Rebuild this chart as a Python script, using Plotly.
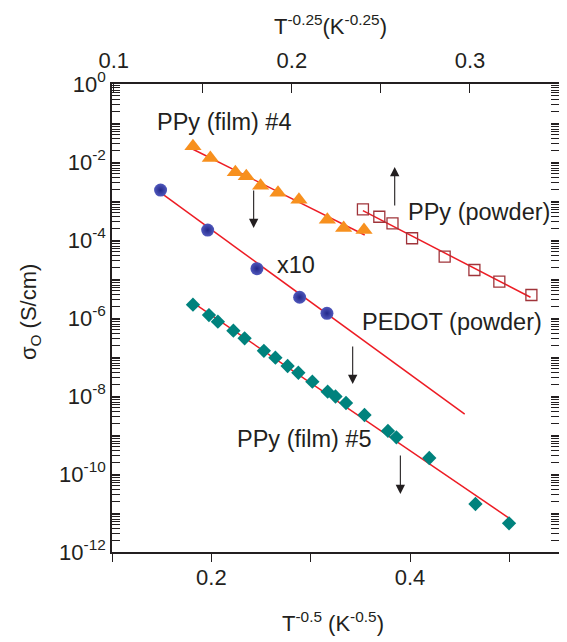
import plotly.graph_objects as go
import numpy as np

# ---------------- data ----------------
# PPy (film) #4 : sigma vs T^-0.5
film4_x = [0.1815, 0.1990, 0.2242, 0.2352, 0.2496, 0.2671, 0.2882, 0.3168, 0.3332, 0.3537]
film4_y = [2.53e-2, 1.27e-2, 5.44e-3, 4.30e-3, 2.47e-3, 1.63e-3, 1.08e-3, 3.32e-4, 2.03e-4, 1.80e-4]
film4_fit_x = [0.1815, 0.3544]
film4_fit_y = [2.12e-2, 1.34e-4]

# PPy (powder) : sigma vs T^-0.25 (top axis)
powder_x = [0.2399, 0.2491, 0.2565, 0.2675, 0.2858, 0.3025, 0.3165, 0.3345]
powder_y = [6.12e-4, 3.95e-4, 2.68e-4, 1.11e-4, 3.73e-5, 1.70e-5, 8.53e-6, 3.89e-6]
powder_fit_x = [0.2399, 0.3340]
powder_fit_y = [5.64e-4, 3.40e-6]

# PEDOT (powder) x10 : sigma vs T^-0.5
pedot_x = [0.1489, 0.1963, 0.2459, 0.2889, 0.3164]
pedot_y = [1.91e-3, 1.80e-4, 1.84e-5, 3.40e-6, 1.32e-6]
pedot_fit_x = [0.1489, 0.4551]
pedot_fit_y = [1.63e-3, 3.45e-9]

# PPy (film) #5 : sigma vs T^-0.5
film5_x = [0.1815, 0.1976, 0.2066, 0.2222, 0.2335, 0.2529, 0.2645, 0.2768, 0.2876, 0.3017,
           0.3171, 0.3250, 0.3356, 0.3542, 0.3778, 0.3863, 0.4194, 0.4659, 0.4997]
film5_y = [2.19e-6, 1.19e-6, 8.04e-7, 4.72e-7, 3.01e-7, 1.44e-7, 9.59e-8, 5.87e-8, 3.95e-8, 2.33e-8,
           1.29e-8, 9.70e-9, 6.62e-9, 3.26e-9, 1.27e-9, 8.73e-10, 2.57e-10, 1.70e-11, 5.45e-12]
film5_fit_x = [0.1815, 0.5000]
film5_fit_y = [2.47e-6, 7.31e-12]

# labels
labels_text = ["PPy (film) #4", "PPy (powder)", "PEDOT (powder)", "x10", "PPy (film) #5"]
labels_x = [0.1432, 0.3955, 0.3497, 0.2641, 0.2238]
labels_y = [1.06e-1, 5.2e-4, 7.9e-7, 2.3e-5, 7.9e-10]

# arrows (x, tail y, head y) in bottom-axis units
arrows_x = [0.2426, 0.3846, 0.3423, 0.3903]
arrows_from = [2.03e-3, 7.0e-4, 2.03e-7, 3.26e-10]
arrows_to = [2.03e-4, 7.45e-3, 2.03e-8, 3.07e-11]

# axis ticks
bottom_ticks = [0.1, 0.2, 0.3, 0.4, 0.5]
bottom_ticktext = ["", "0.2", "", "0.4", ""]
top_ticks = [0.1, 0.15, 0.2, 0.25, 0.3, 0.35]
top_ticktext = ["0.1", "", "0.2", "", "0.3", ""]
y_exps = list(range(0, -13, -1))

# ---------------- figure ----------------
FONT = "Liberation Sans, Arial, sans-serif"
INK = "#231F20"
RED = "#ED1C24"

fig = go.Figure()

def fitline(x, y, xaxis="x"):
    fig.add_trace(go.Scatter(x=x, y=y, mode="lines", xaxis=xaxis,
                             line=dict(color=RED, width=1.5), showlegend=False, hoverinfo="skip"))

fitline(film4_fit_x, film4_fit_y)
fitline(pedot_fit_x, pedot_fit_y)
fitline(film5_fit_x, film5_fit_y)
fitline(powder_fit_x, powder_fit_y, "x2")

fig.add_trace(go.Scatter(x=film4_x, y=film4_y, mode="markers", name="PPy (film) #4",
                         marker=dict(symbol="triangle-up", size=15, color="#F7901E",
                                     line=dict(width=0))))
fig.add_trace(go.Scatter(x=pedot_x, y=pedot_y, mode="markers", name="PEDOT (powder)",
                         marker=dict(symbol="circle", size=13, color="#5058BC",
                                     gradient=dict(type="radial", color="#23288A"),
                                     line=dict(width=0))))
fig.add_trace(go.Scatter(x=film5_x, y=film5_y, mode="markers", name="PPy (film) #5",
                         marker=dict(symbol="diamond", size=11, color="#00827D",
                                     line=dict(width=0))))
fig.add_trace(go.Scatter(x=powder_x, y=powder_y, mode="markers", name="PPy (powder)", xaxis="x2",
                         marker=dict(symbol="square-open", size=11, color="#A0343A",
                                     line=dict(width=1.3, color="#A0343A"))))

annotations = []
for t, x, y in zip(labels_text, labels_x, labels_y):
    annotations.append(dict(text=t, x=x, y=np.log10(y), xref="x", yref="y",
                            xanchor="left", yanchor="middle", showarrow=False,
                            font=dict(family=FONT, size=23.5, color=INK)))
for x, y0, y1 in zip(arrows_x, arrows_from, arrows_to):
    annotations.append(dict(text="", x=x, y=np.log10(y1), ax=x, ay=np.log10(y0),
                            xref="x", yref="y", axref="x", ayref="y",
                            showarrow=True, arrowhead=2, arrowsize=1.7, arrowwidth=1.1,
                            arrowcolor=INK))
# axis titles
annotations.append(dict(text="T<sup>-0.5</sup> (K<sup>-0.5</sup>)", x=0.494, y=-0.15,
                        xref="paper", yref="paper", showarrow=False,
                        xanchor="center", yanchor="middle",
                        font=dict(family=FONT, size=22, color=INK)))
annotations.append(dict(text="T<sup>-0.25</sup>(K<sup>-0.25</sup>)", x=0.488, y=1.126,
                        xref="paper", yref="paper", showarrow=False,
                        xanchor="center", yanchor="middle",
                        font=dict(family=FONT, size=22, color=INK)))
annotations.append(dict(text="σ<sub>O</sub> (S/cm)", x=-0.183, y=0.513, textangle=-90,
                        xref="paper", yref="paper", showarrow=False,
                        xanchor="center", yanchor="middle",
                        font=dict(family=FONT, size=22, color=INK)))

minor_vals = [k * 10.0 ** e for e in range(-12, 0) for k in range(2, 10)]

# the page body adds an 8 px offset; margins compensate so the plot area sits at x 112-559, y 84-552
fig.update_layout(
    width=567, height=642,
    margin=dict(l=104, r=16, t=76, b=98),
    paper_bgcolor="white", plot_bgcolor="white",
    showlegend=False,
    font=dict(family=FONT, size=22, color=INK),
    annotations=annotations,
    xaxis=dict(range=[0.1, 0.55], tickmode="array", tickvals=bottom_ticks, ticktext=bottom_ticktext,
               ticks="outside", ticklen=8, tickwidth=1.3, tickcolor=INK, automargin=False,
               showline=True, linecolor=INK, linewidth=1.5, mirror=False, ticklabelstandoff=-3,
               showgrid=False, zeroline=False, tickfont=dict(size=22)),
    xaxis2=dict(range=[0.099, 0.35], overlaying="x", side="top", anchor="y",
                tickmode="array", tickvals=top_ticks, ticktext=top_ticktext, automargin=False,
                ticks="inside", ticklen=9, tickwidth=1.3, tickcolor=INK, ticklabelstandoff=5,
                showline=True, linecolor=INK, linewidth=1.5,
                showgrid=False, zeroline=False, tickfont=dict(size=22)),
    yaxis=dict(type="log", range=[-12, 0], tickmode="array", automargin=False,
               tickvals=[10.0 ** e for e in y_exps],
               ticktext=[("10<sup>%d</sup>" % e) if e % 2 == 0 else "" for e in y_exps],
               ticks="inside", ticklen=8, tickwidth=1.3, tickcolor=INK,
               minor=dict(tickmode="array", tickvals=minor_vals, ticks="inside", ticklen=4,
                          tickwidth=1, tickcolor=INK, showgrid=False),
               showline=True, linecolor=INK, linewidth=1.5, mirror="allticks",
               showgrid=False, zeroline=False, tickfont=dict(size=22)),
)

fig.write_html("out.html")
